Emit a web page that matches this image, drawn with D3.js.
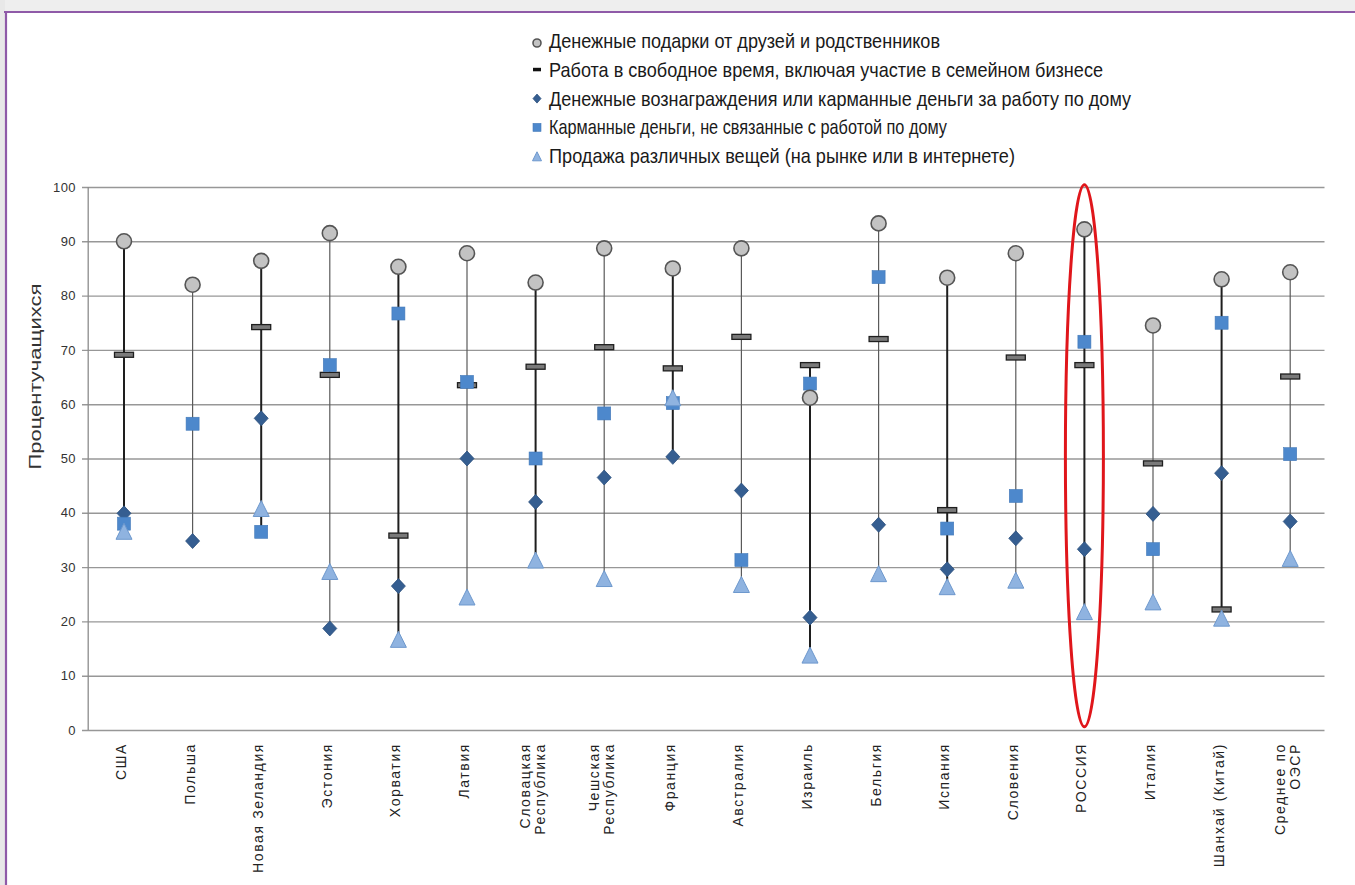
<!DOCTYPE html>
<html><head><meta charset="utf-8">
<script src="https://cdn.jsdelivr.net/npm/d3@7"></script>
<style>html,body{margin:0;padding:0;background:#fff;}svg{display:block;}</style>
</head><body>
<svg id="chart" width="1355" height="885"></svg>
<script>
// ---- data ----
const categories = ["США","Польша","Новая Зеландия","Эстония","Хорватия","Латвия","Словацкая Республика","Чешская Республика","Франция","Австралия","Израиль","Бельгия","Испания","Словения","РОССИЯ","Италия","Шанхай (Китай)","Среднее по ОЭСР"];
const categoryLines = [["США"],["Польша"],["Новая Зеландия"],["Эстония"],["Хорватия"],["Латвия"],["Словацкая","Республика"],["Чешская","Республика"],["Франция"],["Австралия"],["Израиль"],["Бельгия"],["Испания"],["Словения"],["РОССИЯ"],["Италия"],["Шанхай (Китай)"],["Среднее по","ОЭСР"]];
const gifts   = [90,82,86.4,91.5,85.3,87.8,82.4,88.7,85,88.7,61.2,93.3,83.3,87.8,92.2,74.5,83,84.3];
const work    = [69.1,null,74.2,65.4,35.8,63.5,66.9,70.5,66.6,72.4,67.2,72,40.5,68.6,67.2,49.1,22.2,65.1];
const chores  = [39.9,34.8,57.4,18.7,26.5,50,42,46.5,50.3,44.1,20.7,37.8,29.6,35.3,33.3,39.8,47.3,38.4];
const pocket  = [38,56.4,36.5,67.2,76.7,64.1,50,58.3,60.2,31.3,63.8,83.4,37.1,43.1,71.5,33.3,75,50.8];
const selling = [36.3,null,40.5,28.9,16.4,24.2,31,27.6,60.9,26.5,13.5,28.5,26.1,27.3,21.5,23.3,20.3,31.3];
const seriesNames = ["Денежные подарки от друзей и родственников","Работа в свободное время, включая участие в семейном бизнесе","Денежные вознаграждения или карманные деньги за работу по дому","Карманные деньги, не связанные с работой по дому","Продажа различных вещей (на рынке или в интернете)"];
const yTicks = [0,10,20,30,40,50,60,70,80,90,100];
const yTitle = "Процентучащихся";
const highlight = "РОССИЯ";

// ---- layout ----
const svg = d3.select("#chart");
const plotL = 89.7, plotR = 1324.5, plotT = 187, plotB = 730;
const x = d3.scaleBand().domain(categories).range([plotL, plotR]);
const y = d3.scaleLinear().domain([0,100]).range([plotB, plotT]);
const cx = c => x(c) + x.bandwidth()/2;

// frame
svg.append("rect").attr("x",0).attr("y",0).attr("width",1355).attr("height",12).attr("fill","#eeeeee");
svg.append("rect").attr("x",0).attr("y",0).attr("width",5).attr("height",885).attr("fill","#e8e8e8");
svg.append("line").attr("x1",4).attr("x2",1355).attr("y1",12).attr("y2",12).attr("stroke","#8f5aa8").attr("stroke-width",2.2);
svg.append("line").attr("x1",6).attr("x2",6).attr("y1",11).attr("y2",885).attr("stroke","#8f5aa8").attr("stroke-width",2.2);

// gridlines + tick labels
const gAxis = svg.append("g").attr("transform",`translate(${plotR},0)`)
  .call(d3.axisLeft(y).tickValues(yTicks).tickSize(plotR-82).tickPadding(6).tickFormat(d3.format("d")));
gAxis.select(".domain").remove();
gAxis.selectAll(".tick line").attr("stroke","#979797").attr("stroke-width",1.4);
gAxis.selectAll(".tick text").attr("fill","#333").style("font-family","Liberation Sans, Arial, sans-serif").style("font-size","13px").attr("letter-spacing","0.4");
// y axis line
svg.append("line").attr("x1",plotL-1.5).attr("x2",plotL-1.5).attr("y1",y(100)).attr("y2",y(0)).attr("stroke","#8c8c8c").attr("stroke-width",1.3);

// y title
svg.append("text").attr("transform",`translate(41,${(y(100)+y(0))/2-82}) rotate(-90)`)
  .attr("text-anchor","middle").attr("fill","#333")
  .style("font-family","Liberation Sans, Arial, sans-serif").style("font-size","17px")
  .attr("textLength",186).attr("lengthAdjust","spacingAndGlyphs").text(yTitle);

// x labels
const xl = svg.append("g");
categories.forEach((c,i) => {
  const lines = categoryLines[i];
  const n = lines.length;
  lines.forEach((ln,j) => {
    const off = (j - (n-1)/2) * 15;
    xl.append("text")
      .attr("transform",`translate(${cx(c)+off-3},${plotB+13}) rotate(-90)`)
      .attr("text-anchor","end").attr("dy","0.35em").attr("fill","#222")
      .style("font-family","Liberation Sans, Arial, sans-serif").style("font-size","14px")
      .attr("letter-spacing","1.6").text(ln);
  });
});

// vertical high-low lines
const allSeries = [gifts, work, chores, pocket, selling];
categories.forEach((c,i) => {
  const vals = allSeries.map(s => s[i]).filter(v => v != null);
  svg.append("line").attr("x1",cx(c)).attr("x2",cx(c))
    .attr("y1",y(d3.max(vals))).attr("y2",y(d3.min(vals)))
    .attr("stroke", i%2===0 ? "#1e1e1e" : "#5a5a5a")
    .attr("stroke-width", i%2===0 ? 2 : 1.2);
});

// marker drawers
const diamondPath = (w,h) => `M0,${-h}L${w},0L0,${h}L${-w},0Z`;
const trianglePath = (w,h) => `M0,${-h*0.6}L${w},${h*0.4}L${-w},${h*0.4}Z`;

function drawDash(g, px, py, w, h){ g.append("rect").attr("x",px-w/2).attr("y",py-h/2).attr("width",w).attr("height",h).attr("fill","#7a7a7a").attr("stroke","#1f1f1f").attr("stroke-width",1.3); }
function drawDiamond(g, px, py, w, h){ g.append("path").attr("d",diamondPath(w,h)).attr("transform",`translate(${px},${py})`).attr("fill","#355e91").attr("stroke","#2b4f7c").attr("stroke-width",0.8); }
function drawSquare(g, px, py, s){ g.append("rect").attr("x",px-s/2).attr("y",py-s/2).attr("width",s).attr("height",s).attr("fill","#4d88cc").attr("stroke","#4379b8").attr("stroke-width",0.6); }
function drawTriangle(g, px, py, w, h){ g.append("path").attr("d",trianglePath(w,h)).attr("transform",`translate(${px},${py})`).attr("fill","#8fb3e0").attr("stroke","#6d98cd").attr("stroke-width",1); }
function drawCircle(g, px, py, r){ g.append("circle").attr("cx",px).attr("cy",py).attr("r",r).attr("fill","#c3c3c3").attr("stroke","#555").attr("stroke-width",1.6); }

const gm = svg.append("g");
categories.forEach((c,i) => { if (work[i]!=null) drawDash(gm, cx(c), y(work[i]), 19, 5); });
categories.forEach((c,i) => { if (chores[i]!=null) drawDiamond(gm, cx(c), y(chores[i]), 7, 7.5); });
categories.forEach((c,i) => { if (pocket[i]!=null) drawSquare(gm, cx(c), y(pocket[i]), 13); });
categories.forEach((c,i) => { if (selling[i]!=null) drawTriangle(gm, cx(c), y(selling[i]), 8, 16); });
categories.forEach((c,i) => { if (gifts[i]!=null) drawCircle(gm, cx(c), y(gifts[i]), 7.5); });

// highlight ellipse
const eTop = y(100.4), eBot = y(0.6);
svg.append("ellipse").attr("cx",cx(highlight)).attr("cy",(eTop+eBot)/2).attr("rx",19).attr("ry",(eBot-eTop)/2)
  .attr("fill","none").attr("stroke","#e0161b").attr("stroke-width",3);

// legend
const legX = 537, legY0 = 40, legStep = 28.8;
const legLen = [391, 554, 582, 398, 466];
const lg = svg.append("g");
seriesNames.forEach((name,i) => {
  const yy = legY0 + i*legStep;
  if (i===0) drawCircle(lg, legX, yy+3, 4);
  if (i===1) lg.append("rect").attr("x",legX-4).attr("y",yy-1).attr("width",8).attr("height",3.5).attr("fill","#111");
  if (i===2) drawDiamond(lg, legX, yy+1, 4, 4.5);
  if (i===3) drawSquare(lg, legX, yy+1, 8);
  if (i===4) drawTriangle(lg, legX, yy+2, 4.5, 9);
  lg.append("text").attr("x",549).attr("y",yy+8).attr("fill","#1a1a1a")
    .style("font-family","Liberation Sans, Arial, sans-serif").style("font-size","21px")
    .attr("textLength",legLen[i]).attr("lengthAdjust","spacingAndGlyphs").text(name);
});
</script>
</body></html>
